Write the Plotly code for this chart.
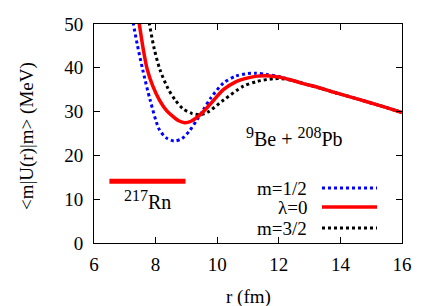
import plotly.graph_objects as go

# Shared tail (all curves coincide beyond ~12.4 fm)
r_tail = [12.8, 13.28, 13.7, 14.2, 14.6, 15.12, 15.5, 16.0]
v_tail = [36.4, 35.5, 34.6, 33.6, 32.8, 31.7, 30.9, 29.8]

r_m12 = [7.22, 7.28, 7.4, 7.58, 7.82, 8.12, 8.35, 8.6, 8.85, 9.1, 9.35, 9.55, 9.8, 10.2, 10.6, 11.0, 11.25, 11.6, 12.0, 12.4]
v_m12 = [53, 50, 45.5, 39.6, 32.7, 25.9, 24.0, 23.3, 23.8, 25.6, 28.2, 30.4, 33.2, 36.5, 38.1, 38.7, 38.75, 38.5, 38.0, 37.2]

r_l0 = [7.4, 7.47, 7.6, 7.73, 7.9, 8.12, 8.35, 8.56, 8.75, 8.95, 9.15, 9.45, 9.8, 10.2, 10.6, 11.0, 11.3, 11.6, 12.0, 12.4]
v_l0 = [53, 50, 44.2, 39.6, 36.0, 32.7, 30.3, 28.9, 27.9, 27.45, 27.8, 29.3, 31.9, 35.0, 36.8, 37.7, 38.1, 38.2, 37.9, 37.2]

r_m32 = [7.72, 7.8, 7.95, 8.14, 8.4, 8.63, 8.9, 9.17, 9.45, 9.7, 10.2, 10.85, 11.3, 11.83, 12.1, 12.4]
v_m32 = [53, 50, 44.5, 39.6, 35.3, 32.7, 30.6, 29.6, 29.3, 29.9, 32.6, 35.8, 36.9, 37.5, 37.5, 37.2]

rn_r = [6.5, 8.97]
rn_v = [14.1, 14.1]

x_ticks = [6, 8, 10, 12, 14, 16]
y_ticks = [0, 10, 20, 30, 40, 50]

FONT = "Liberation Serif, Times New Roman, serif"
FS = 19

fig = go.Figure()

def add_curve(r, v, color, dash, width):
    fig.add_trace(go.Scatter(x=r + r_tail, y=v + v_tail, mode="lines",
                             line=dict(color=color, dash=dash, width=width, shape="spline", smoothing=0.8),
                             showlegend=False, hoverinfo="skip"))

add_curve(r_m32, v_m32, "black", "dot", 3)
add_curve(r_m12, v_m12, "#0000ff", "dot", 3)
add_curve(r_l0, v_l0, "#ff0000", "solid", 3.5)

fig.add_trace(go.Scatter(x=rn_r, y=rn_v, mode="lines", line=dict(color="#ff0000", width=5),
                         showlegend=False, hoverinfo="skip"))

# Page has an 8px body margin: the figure starts at (8, 8) in the window.
OFF = 8
W, H = 436 - OFF, 306 - OFF
PL, PR, PT, PB = 94, 402, 24, 243  # plot box in window pixels
ML, MT = PL - OFF, PT - OFF
pw, ph = PR - PL, PB - PT
MR, MB = W - ML - pw, H - MT - ph

def px(xw):
    return (xw - PL) / pw

def py(yw):
    return 1 - (yw - PT) / ph

# Custom legend (text to the left of sample lines)
legend_items = [("m=1/2", "#0000ff", "dot", 3, 188),
                ("λ=0", "#ff0000", "solid", 3.5, 207),
                ("m=3/2", "black", "dot", 3, 228)]
for text, col, dash, wd, ypix in legend_items:
    fig.add_annotation(x=px(309), y=py(ypix), xref="paper", yref="paper", text=text,
                       showarrow=False, xanchor="right", yanchor="middle",
                       font=dict(family=FONT, size=FS, color="black"))
    fig.add_shape(type="line", xref="paper", yref="paper",
                  x0=px(322), x1=px(377), y0=py(ypix), y1=py(ypix),
                  line=dict(color=col, dash=dash, width=wd))

SUP = "<sup><span style='font-size:16px'>{}</span></sup>"
fig.add_annotation(x=12.5, y=24.3, text=SUP.format("9") + "Be + " + SUP.format("208") + "Pb",
                   showarrow=False, font=dict(family=FONT, size=20, color="black"))
fig.add_annotation(x=7.75, y=9.8, text=SUP.format("217") + "Rn", showarrow=False,
                   font=dict(family=FONT, size=20, color="black"))

# Axis titles
fig.add_annotation(x=px(248), y=py(297), xref="paper", yref="paper", text="r (fm)",
                   showarrow=False, xanchor="center", yanchor="middle",
                   font=dict(family=FONT, size=FS, color="black"))
fig.add_annotation(x=px(27), y=py(136), xref="paper", yref="paper", text="&lt;m|U(r)|m&gt; (MeV)",
                   showarrow=False, xanchor="center", yanchor="middle", textangle=-90,
                   font=dict(family=FONT, size=FS, color="black"))

axis_common = dict(showgrid=False, zeroline=False, showline=True, linecolor="black", linewidth=1,
                   mirror="ticks", ticks="inside", ticklen=6, tickcolor="black", automargin=False,
                   tickfont=dict(family=FONT, size=FS, color="black"))

fig.update_xaxes(range=[6, 16], tickvals=x_ticks, ticktext=[str(t) for t in x_ticks],
                 ticklabelstandoff=4, **axis_common)
fig.update_yaxes(range=[0, 50], tickvals=y_ticks, ticktext=[str(t) for t in y_ticks],
                 ticklabelstandoff=6, **axis_common)

fig.update_layout(width=W, height=H, margin=dict(l=ML, r=MR, t=MT, b=MB),
                  plot_bgcolor="white", paper_bgcolor="white", showlegend=False)

fig.write_html("out.html")
